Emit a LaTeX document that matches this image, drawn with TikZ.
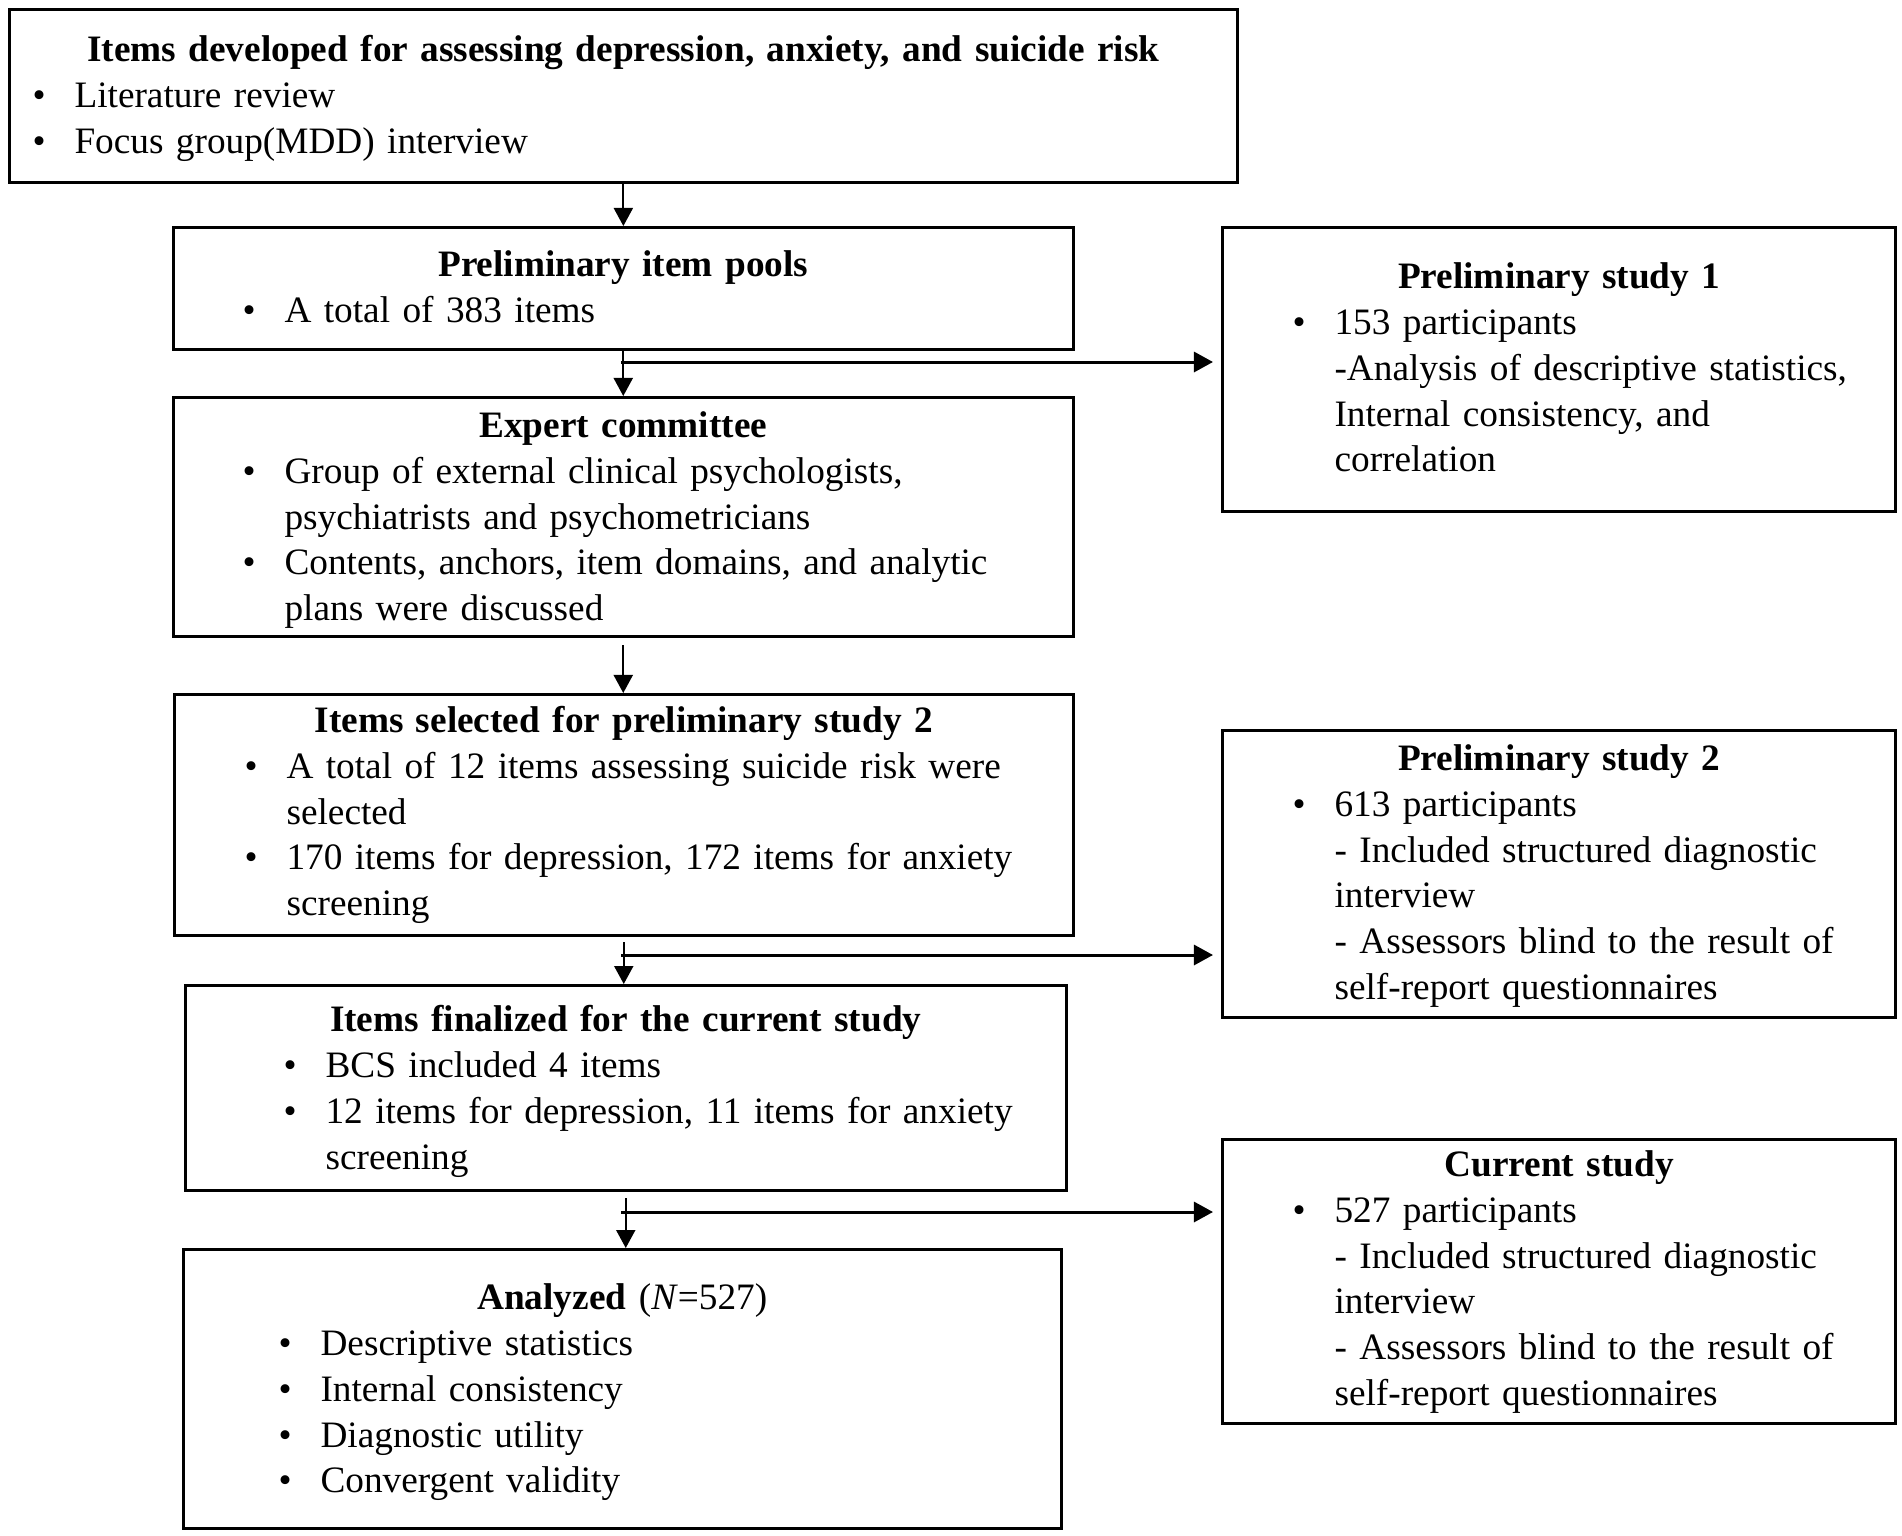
\documentclass[tikz,border=0pt]{standalone}
\usepackage{fontspec}
\setmainfont{Liberation Serif}
\usetikzlibrary{arrows.meta}

% lignes des boites : titre centre, puces, suites sans puce
\newcommand{\titre}[1]{{\centering\bfseries #1\par}}
\newcommand{\puce}[2][0.57cm]{\par{\leftskip=\dimexpr#1+0.34cm\relax\noindent\llap{\makebox[0.42cm][l]{\textbullet}}#2\par}}
\newcommand{\suite}[2][0.58cm]{\par{\leftskip=\dimexpr#1+0.34cm\relax\noindent #2\par}}

\begin{document}
\begin{tikzpicture}[x=0.01cm,y=-0.01cm]
			\tikzstyle{boite}=[draw,line width=0.03cm,anchor=north west,inner xsep=0.2cm,inner ysep=0pt,align=left,font=\fontsize{10.6}{13.03}\selectfont]
			\tikzstyle{fleche}=[-{Triangle[length=0.18cm,width=0.19cm]},line width=0.02cm]
			\tikzstyle{branche}=[-{Triangle[length=0.19cm,width=0.2cm]},line width=0.03cm,shorten >=0.08cm]
			\useasboundingbox (0,0) rectangle (1902,1536);
			% colonne de gauche
			\node[boite,text width=11.87cm,text height=0.52cm,text depth=1.21cm] (B1) at (8,8) {%
				\titre{Items developed for assessing depression, anxiety, and suicide risk}
				\puce[0.11cm]{Literature review}
				\puce[0.11cm]{Focus group(MDD) interview}};
			\node[boite,text width=8.59cm,text height=0.49cm,text depth=0.73cm] (B2) at (172,226) {%
				\titre{Preliminary item pools}
				\puce{A total of 383 items}};
			\node[boite,text width=8.59cm,text height=0.40cm,text depth=1.99cm] (B3) at (172,396) {%
				\titre{Expert committee}
				\puce{Group of external clinical psychologists,\\psychiatrists and psychometricians}
				\puce{Contents, anchors, item domains, and analytic\\plans were discussed}};
			\node[boite,text width=8.58cm,text height=0.38cm,text depth=2.03cm] (B4) at (173,693) {%
				\titre{Items selected for preliminary study 2}
				\puce[0.58cm]{A total of 12 items assessing suicide risk were\\selected}
				\puce[0.58cm]{170 items for depression, 172 items for anxiety\\screening}};
			\node[boite,text width=8.40cm,text height=0.46cm,text depth=1.59cm] (B5) at (184,984) {%
				\titre{Items finalized for the current study}
				\puce[0.86cm]{BCS included 4 items}
				\puce[0.86cm]{12 items for depression, 11 items for anxiety\\screening}};
			\node[boite,text width=8.37cm,text height=0.60cm,text depth=2.19cm] (B6) at (182,1248) {%
				\titre{Analyzed \mdseries(\textit{N}=527)}
				\puce[0.83cm]{Descriptive statistics}
				\puce[0.83cm]{Internal consistency}
				\puce[0.83cm]{Diagnostic utility}
				\puce[0.83cm]{Convergent validity}};
			% colonne de droite
			\node[boite,text width=6.33cm,text height=0.61cm,text depth=2.23cm] (R1) at (1221,226) {%
				\titre{Preliminary study 1}
				\puce[0.58cm]{153 participants}
				\suite{-Analysis of descriptive statistics,\\Internal consistency, and\\correlation}};
			\node[boite,text width=6.33cm,text height=0.40cm,text depth=2.47cm] (R2) at (1221,729) {%
				\titre{Preliminary study 2}
				\puce[0.58cm]{613 participants}
				\suite{- Included structured diagnostic\\interview\\- Assessors blind to the result of\\self-report questionnaires}};
			\node[boite,text width=6.33cm,text height=0.37cm,text depth=2.47cm] (R3) at (1221,1138) {%
				\titre{Current study}
				\puce[0.58cm]{527 participants}
				\suite{- Included structured diagnostic\\interview\\- Assessors blind to the result of\\self-report questionnaires}};
			% fleches verticales
			\draw[fleche] (B1.south) -- (B1.south |- B2.north);
			\draw[fleche] (B2.south) -- (B2.south |- B3.north);
			\draw[fleche,shorten <=0.07cm] (B3.south) -- (B3.south |- B4.north);
			\draw[fleche,shorten <=0.05cm] (B4.south) -- (B4.south |- B5.north);
			\draw[fleche,shorten <=0.06cm] (B5.south) -- (B5.south |- B6.north);
			% embranchements vers les etudes
			\coordinate (E1) at (621,362);
			\coordinate (E2) at (621,955);
			\coordinate (E3) at (621,1212);
			\draw[branche] (E1) -- (E1 -| R1.west);
			\draw[branche] (E2) -- (E2 -| R2.west);
			\draw[branche] (E3) -- (E3 -| R3.west);
		\end{tikzpicture}
\end{document}
